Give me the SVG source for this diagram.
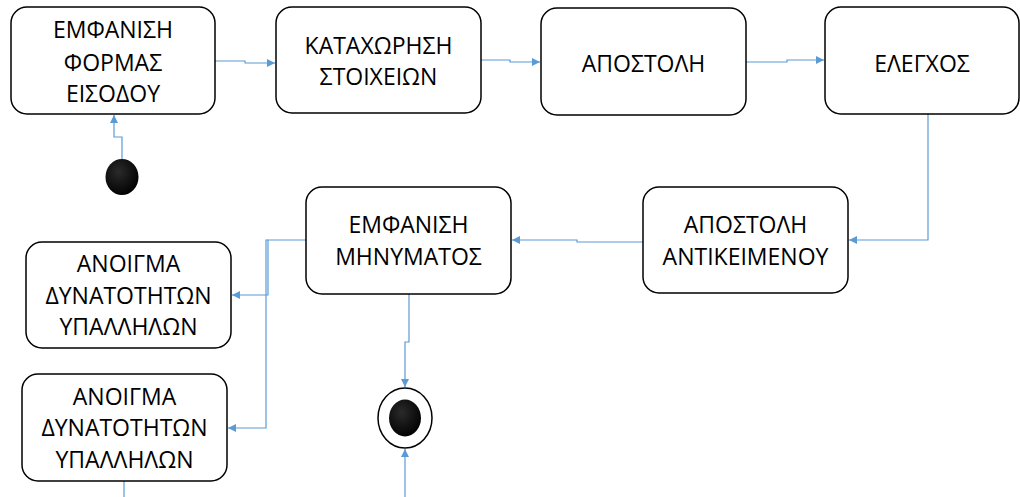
<svg xmlns="http://www.w3.org/2000/svg" width="1020" height="497" viewBox="0 0 1020 497">
<style>
.box{fill:#fff;stroke:#000;stroke-width:1.5}
.t{font-family:"Open Sans","Liberation Sans",sans-serif;font-size:23px;fill:#000;text-anchor:middle}
.c{fill:none;stroke:#5B9BD5;stroke-width:1.2}
</style>
<defs>
<marker id="a" viewBox="0 0 10 10" refX="10" refY="5" markerWidth="9" markerHeight="8" markerUnits="userSpaceOnUse" orient="auto">
<path d="M0,0L10,5L0,10z" fill="#5B9BD5"/>
</marker>
<radialGradient id="g" cx="0.4" cy="0.35" r="0.7">
<stop offset="0" stop-color="#2a2a2a"/>
<stop offset="1" stop-color="#000"/>
</radialGradient>
</defs>
<rect width="1020" height="497" fill="#fff"/>
<g id="connectors">
<path class="c" d="M122,159V137H114V115" marker-end="url(#a)"/>
<path class="c" d="M215,61H245V63H275" marker-end="url(#a)"/>
<path class="c" d="M481,60H510V62H540" marker-end="url(#a)"/>
<path class="c" d="M746,62H787V60H824" marker-end="url(#a)"/>
<path class="c" d="M928,114V240H849" marker-end="url(#a)"/>
<path class="c" d="M643,242H577V240H512" marker-end="url(#a)"/>
<path class="c" d="M306,240H268V295H232" marker-end="url(#a)"/>
<path class="c" d="M268,240H266V428H228" marker-end="url(#a)"/>
<path class="c" d="M409,294V342H405V387" marker-end="url(#a)"/>
<path class="c" d="M405,497V449" marker-end="url(#a)"/>
<path class="c" d="M124,481V497"/>
</g>
<g id="start"><ellipse cx="122" cy="177" rx="16.5" ry="18" fill="url(#g)"/></g>
<g id="end">
<ellipse cx="405" cy="418" rx="27" ry="30" fill="#fff" stroke="#000" stroke-width="1.5"/>
<ellipse cx="405" cy="418" rx="16" ry="18.5" fill="url(#g)"/>
</g>
<g id="n1"><rect class="box" x="11" y="7" width="204" height="107" rx="16"/>
<text class="t" x="113" y="38">ΕΜΦΑΝΙΣΗ</text><text class="t" x="113" y="71">ΦΟΡΜΑΣ</text><text class="t" x="113" y="102">ΕΙΣΟΔΟΥ</text></g>
<g id="n2"><rect class="box" x="276" y="7" width="205" height="106" rx="16"/>
<text class="t" x="378.5" y="54">ΚΑΤΑΧΩΡΗΣΗ</text><text class="t" x="378.5" y="85">ΣΤΟΙΧΕΙΩΝ</text></g>
<g id="n3"><rect class="box" x="541" y="8" width="205" height="107" rx="16"/>
<text class="t" x="643.5" y="72">ΑΠΟΣΤΟΛΗ</text></g>
<g id="n4"><rect class="box" x="825" y="7" width="194" height="107" rx="16"/>
<text class="t" x="922" y="72">ΕΛΕΓΧΟΣ</text></g>
<g id="n5"><rect class="box" x="643" y="187" width="205" height="106" rx="16"/>
<text class="t" x="745.5" y="233">ΑΠΟΣΤΟΛΗ</text><text class="t" x="745.5" y="265">ΑΝΤΙΚΕΙΜΕΝΟΥ</text></g>
<g id="n6"><rect class="box" x="306" y="187" width="205" height="107" rx="16"/>
<text class="t" x="408.5" y="233">ΕΜΦΑΝΙΣΗ</text><text class="t" x="408.5" y="265">ΜΗΝΥΜΑΤΟΣ</text></g>
<g id="n7"><rect class="box" x="26" y="242" width="205" height="106" rx="16"/>
<text class="t" x="128.5" y="272">ΑΝΟΙΓΜΑ</text><text class="t" x="128.5" y="304">ΔΥΝΑΤΟΤΗΤΩΝ</text><text class="t" x="128.5" y="335">ΥΠΑΛΛΗΛΩΝ</text></g>
<g id="n8"><rect class="box" x="22" y="374" width="205" height="107" rx="16"/>
<text class="t" x="124.5" y="405">ΑΝΟΙΓΜΑ</text><text class="t" x="124.5" y="436">ΔΥΝΑΤΟΤΗΤΩΝ</text><text class="t" x="124.5" y="468">ΥΠΑΛΛΗΛΩΝ</text></g>
</svg>
